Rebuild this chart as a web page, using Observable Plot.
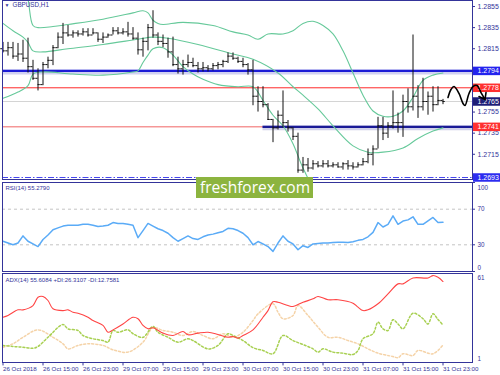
<!DOCTYPE html>
<html><head><meta charset="utf-8">
<script src="https://cdn.jsdelivr.net/npm/d3@7"></script>
<script src="https://cdn.jsdelivr.net/npm/@observablehq/plot@0.6"></script>
<style>
body{margin:0;background:#fff;}
#wrap{position:relative;width:500px;height:375px;overflow:hidden;}
#wrap svg{display:block;}
#wm{position:absolute;left:196px;top:177px;width:117px;height:21px;background:#8cb43f;color:#fff;font-family:"Open Sans",sans-serif;font-size:15.5px;line-height:20px;padding-left:4px;box-sizing:border-box;white-space:nowrap;}
</style></head><body><div id="wrap"><div id="wm">freshforex.com</div></div>
<script>
// ---------- DATA ----------
const symbolTitle = "GBPUSD,H1";
const highs = [1.2821,1.2821,1.2821,1.2820,1.2823,1.2825,1.2804,1.2796,1.2802,1.2807,
1.2818,1.2830,1.2839,1.2837,1.2832,1.2832,1.2834,1.2834,1.2834,1.2830,
1.2830,1.2829,1.2835,1.2835,1.2834,1.2840,1.2835,1.2830,1.2825,1.2838,
1.2851,1.2830,1.2828,1.2825,1.2826,1.2807,1.2804,1.2809,1.2806,1.2802,
1.2802,1.2799,1.2801,1.2802,1.2804,1.2811,1.2811,1.2807,1.2806,1.2801,
1.2804,1.2779,1.2779,1.2763,1.2748,1.2756,1.2775,1.2747,1.2740,1.2735,
1.2712,1.2711,1.2709,1.2708,1.2709,1.2709,1.2707,1.2707,1.2707,1.2709,
1.2707,1.2707,1.2711,1.2720,1.2723,1.2750,1.2750,1.2745,1.2775,1.2754,
1.2771,1.2777,1.2828,1.2780,1.2787,1.2774,1.2779,1.2779,1.2767];
const lows = [1.2811,1.2808,1.2805,1.2803,1.2802,1.2792,1.2785,1.2775,1.2780,1.2796,
1.2799,1.2815,1.2819,1.2826,1.2825,1.2826,1.2827,1.2826,1.2828,1.2821,
1.2820,1.2825,1.2828,1.2828,1.2828,1.2826,1.2823,1.2809,1.2807,1.2813,
1.2825,1.2818,1.2816,1.2806,1.2798,1.2791,1.2790,1.2797,1.2797,1.2792,
1.2793,1.2793,1.2794,1.2795,1.2797,1.2801,1.2804,1.2801,1.2797,1.2790,
1.2761,1.2755,1.2759,1.2747,1.2726,1.2738,1.2740,1.2736,1.2728,1.2697,
1.2697,1.2698,1.2700,1.2702,1.2702,1.2702,1.2702,1.2702,1.2700,1.2700,
1.2700,1.2702,1.2704,1.2706,1.2704,1.2720,1.2728,1.2730,1.2739,1.2735,
1.2731,1.2754,1.2756,1.2749,1.2756,1.2752,1.2755,1.2761,1.2762];
const opens = [1.2815,1.2813,1.2816,1.2808,1.2810,1.2806,1.2798,1.2787,1.2781,1.2800,
1.2804,1.2816,1.2826,1.2830,1.2828,1.2830,1.2829,1.2831,1.2828,1.2830,
1.2824,1.2826,1.2828,1.2832,1.2830,1.2831,1.2829,1.2825,1.2814,1.2822,
1.2835,1.2828,1.2822,1.2820,1.2812,1.2800,1.2796,1.2800,1.2802,1.2799,
1.2796,1.2797,1.2796,1.2799,1.2800,1.2803,1.2808,1.2806,1.2803,1.2800,
1.2795,1.2770,1.2765,1.2762,1.2748,1.2740,1.2752,1.2745,1.2740,1.2732,
1.2700,1.2705,1.2702,1.2706,1.2704,1.2706,1.2704,1.2705,1.2703,1.2706,
1.2704,1.2703,1.2705,1.2708,1.2715,1.2720,1.2742,1.2735,1.2742,1.2745,
1.2745,1.2765,1.2760,1.2770,1.2760,1.2765,1.2770,1.2762,1.2766];
const closes = [1.2813,1.2816,1.2808,1.2810,1.2806,1.2798,1.2787,1.2781,1.2800,1.2804,
1.2816,1.2826,1.2830,1.2828,1.2830,1.2829,1.2831,1.2828,1.2830,1.2824,
1.2826,1.2828,1.2832,1.2830,1.2831,1.2829,1.2825,1.2814,1.2822,1.2835,
1.2828,1.2822,1.2820,1.2812,1.2800,1.2796,1.2800,1.2802,1.2799,1.2796,
1.2797,1.2796,1.2799,1.2800,1.2803,1.2808,1.2806,1.2803,1.2800,1.2795,
1.2770,1.2765,1.2762,1.2748,1.2740,1.2752,1.2745,1.2740,1.2732,1.2700,
1.2705,1.2702,1.2706,1.2704,1.2706,1.2704,1.2705,1.2703,1.2706,1.2704,
1.2703,1.2705,1.2708,1.2715,1.2720,1.2742,1.2735,1.2742,1.2745,1.2745,
1.2765,1.2760,1.2770,1.2760,1.2765,1.2770,1.2762,1.2766,1.2765];

// Bollinger bands: [bar index, price]
const bbUpper = [[4,1.2880],[5,1.2862],[6,1.2837],[7,1.2835],[10,1.2836],[13,1.2838],[20,1.2843],[26,1.2849],[28,1.2851],[29,1.2849],[30,1.2842],[31,1.2839],[32,1.2838],[36,1.2840],[42,1.2837],[46,1.2831],[49,1.2828],[51,1.2824],[53,1.2829],[56,1.2829],[58,1.2832],[60,1.2839],[62,1.2841],[64,1.2837],[66,1.2829],[68,1.2813],[70,1.2792],[72,1.2771],[74,1.2756],[76,1.2751],[78,1.2751],[80,1.2756],[82,1.2769],[84,1.2785],[86,1.2790],[88,1.2792]];
const bbMiddle = [[0,1.2839],[2,1.2832],[4,1.2826],[5,1.2821],[6,1.2813],[8,1.2812],[13,1.2815],[20,1.2819],[27,1.2824],[30,1.2826],[33,1.2825],[39,1.2819],[46,1.2810],[50,1.2805],[55,1.2792],[58,1.2779],[60,1.2771],[63,1.2758],[66,1.2742],[70,1.2723],[73,1.2717],[76,1.2717],[80,1.2721],[83,1.2730],[86,1.2737],[88,1.2740]];
const bbLower = [[0,1.2768],[3,1.2774],[5,1.2780],[6,1.2791],[8,1.2793],[14,1.2791],[20,1.2790],[26,1.2793],[27,1.2794],[28,1.2802],[29,1.2809],[30,1.2815],[32,1.2816],[34,1.2809],[36,1.2798],[38,1.2791],[40,1.2786],[43,1.2781],[47,1.2779],[50,1.2779],[52,1.2766],[54,1.2752],[56,1.2742],[58,1.2725],[60,1.2702],[62,1.2685],[66,1.2671]];

// Levels
const resistance = 1.2794;
const pivot = 1.2778;
const bid = 1.2765;
const support = 1.2741;
const swingLow = 1.2693;
const supportFromBar = 52;
const priceTicks = [1.2855, 1.2835, 1.2815, 1.2755, 1.2735, 1.2715];

// Hand drawn forecast wave: [bar index, price]
const wave = [[89,1.27688],[89.6,1.27764],[90.2,1.27792],[91.2,1.27726],[92,1.27631],[92.4,1.27612],[93.2,1.27726],[94,1.27792],[94.8,1.27802],[95.6,1.27735],[96.4,1.27669]];
const arrowHead = [[95.2,1.27697],[96.4,1.27669],[96.6,1.27735]];

// RSI(14), one value per bar
const rsi = [34,32,30,32,40,34,31,28,36,41,
47,49,51,52,52,52,53,53,52,50.5,
51,52,55,54,54,53,52,38,46,54,
51,48,46,43,38,34,37,40,37,36,
39,41,42,43.5,45,48.5,48,46,43,38,
30,33.7,31,28,22.6,32,40,34,31,24.4,
29,27,31,31.5,32,32,32.5,33,33,32.5,
33.5,35,36,39,44,55,50,53,62.6,53,
56.7,58,61.5,53,53,57,60.7,55,55.3];
const rsiLabel = "RSI(14) 55.2790";
const rsiLevels = [70, 30];

// ADX(14): [bar index, value]
const adx = [[0,31.5],[1,32.7],[3,36.5],[4,36.5],[6,39.4],[7,45],[8,45.5],[9,42.8],[10,37.2],[12,36],[13,36.5],[14,34.9],[15,34.2],[17,31.5],[18,29.3],[20,26],[21,21.4],[22,23],[24,27],[26,31.5],[27,30.5],[28,26],[29,23.7],[30,24.4],[32,20.8],[34,19.2],[36,21.9],[37,19.7],[39,20.8],[41,21.4],[43,19.9],[45,18],[46,18.5],[47,17.4],[48,19.2],[50,23],[52,31.5],[53,36],[54,42],[55,41.6],[57,39.4],[58,38.8],[60,41.6],[62,43.9],[63,45.5],[65,43.3],[67,43.3],[70,41],[71,38.3],[72,36],[73,36.5],[75,40.6],[77,47.3],[79,54],[80,54],[82,58],[85,58],[86,59.6],[87,58.5],[88,55.6]];
const plusDI = [[0,12.5],[2,11.8],[4,11.3],[6,10.6],[7,11.8],[9,18],[12,26.6],[13,23.7],[15,22.6],[16,19.2],[18,17],[20,15.8],[21,14.7],[22,22.6],[23,21.4],[25,23],[26,20.4],[28,18],[30,25.3],[31,21.4],[33,18],[35,14.7],[37,17],[38,15.8],[41,10.2],[43,12.5],[45,20.4],[46,19.2],[48,15.8],[50,11],[52,9.1],[54,6.9],[56,19.2],[58,15.8],[60,13.1],[62,10.2],[63,8],[64,10.2],[66,8],[68,7.3],[70,6.4],[71,9.1],[72,17],[74,20.4],[75,28.2],[76,23.7],[77,22.6],[78,29.8],[79,27],[80,23.7],[82,34.2],[84,30.5],[85,27],[86,33.8],[87,30],[88,26.3]];
const minusDI = [[0,11.3],[2,13.6],[4,18],[7,23],[10,18],[12,13.6],[13,10.2],[15,12.5],[17,13.6],[20,12.5],[22,9.6],[25,8],[28,14.7],[30,24.4],[32,22.6],[34,21.4],[36,19.2],[38,21.9],[40,19.2],[42,17],[44,20.4],[46,18],[48,21.4],[50,29.3],[51,33.8],[54,40.6],[55,34.9],[56,30.5],[58,32.7],[59,39.4],[61,32.7],[63,24.8],[65,18],[67,18],[69,15.8],[71,13.6],[73,10.2],[75,7.3],[78,5],[79,4.2],[80,6.9],[82,5.7],[83,9.1],[86,6.9],[88,12.8]];
const adxLabel = "ADX(14) 55.6084 +DI:26.3107 -DI:12.7581";

// Time axis
const timeTickBars = [0,8,16,24,32,40,48,56,64,72,80,88];
const timeLabels = ["26 Oct 2018","26 Oct 15:00","26 Oct 23:00","29 Oct 07:00","29 Oct 15:00","29 Oct 23:00","30 Oct 07:00","30 Oct 15:00","30 Oct 23:00","31 Oct 07:00","31 Oct 15:00","31 Oct 23:00"];

// ---------- DRAWING ----------
const NAVY = "#34349a";
const BB = "#66c99a";
const XD = [-0.1, 93.9];
const XR = XD[1];
const FONT = "Liberation Sans, Arial, sans-serif";
const base = {width: 500, marginLeft: 2, marginRight: 28, style: {fontFamily: FONT, fontSize: "7px", background: "white", overflow: "visible"}};
const px = d => d[0], py = d => d[1];

const bars = highs.map((h, i) => ({i, high: h, low: lows[i], open: opens[i], close: closes[i]}));

const boxes = [
  {v: resistance, fill: "#2323ee"},
  {v: pivot, fill: "#ff3030"},
  {v: bid, fill: "#1e1e78"},
  {v: support, fill: "#ff3030"},
  {v: swingLow, fill: "#2c2cf0"}
];
const boxMarks = boxes.flatMap(b => [
  Plot.ruleY([b.v], {x1: XR + 0.2, x2: 99.9, stroke: b.fill, strokeWidth: 8.5}),
  Plot.text([b.v], {x: XR, y: d => d, dx: 5, text: d => d.toFixed(4), textAnchor: "start", fill: "white", fontSize: 7})
]);
const axisLabel = (vals, dy) => Plot.text(vals, {x: XR, y: d => d, dx: 5, dy, text: d => String(d), textAnchor: "start", fill: NAVY, fontSize: 6.3});

const main = Plot.plot({
  ...base, height: 181, marginTop: 0, marginBottom: 2,
  x: {domain: XD, axis: null},
  y: {domain: [1.26911, 1.28607], axis: null},
  marks: [
    Plot.ruleY([bid], {stroke: "#d4d4d4"}),
    Plot.ruleY([pivot], {stroke: "#ff2a2a"}),
    Plot.ruleY([support], {stroke: "#f06464"}),
    Plot.ruleY([resistance], {stroke: "#9898e0", strokeWidth: 5, strokeOpacity: 0.45, dy: 1}),
    Plot.ruleY([resistance], {stroke: "#1c1cd6", strokeWidth: 2.4}),
    Plot.ruleY([support], {x1: supportFromBar, x2: XR, stroke: "#9898d0", strokeWidth: 5, strokeOpacity: 0.45, dy: 1}),
    Plot.ruleY([support], {x1: supportFromBar, x2: XR, stroke: "#1a1a96", strokeWidth: 2.4}),
    Plot.ruleY([swingLow], {stroke: "#4646ee", strokeWidth: 1.2, strokeDasharray: "6,2,1.5,2"}),
    Plot.line(bbUpper, {x: px, y: py, stroke: BB, strokeWidth: 1.1, curve: "catmull-rom", clip: true}),
    Plot.line(bbMiddle, {x: px, y: py, stroke: BB, strokeWidth: 1.1, curve: "catmull-rom", clip: true}),
    Plot.line(bbLower, {x: px, y: py, stroke: BB, strokeWidth: 1.1, curve: "catmull-rom", clip: true}),
    Plot.ruleX(bars, {x: "i", y1: "low", y2: "high", stroke: "#111"}),
    Plot.ruleY(bars, {y: "open", x1: d => d.i - 0.45, x2: "i", stroke: "#111"}),
    Plot.ruleY(bars, {y: "close", x1: "i", x2: d => d.i + 0.45, stroke: "#111"}),
    Plot.frame({stroke: NAVY}),
    Plot.ruleY(priceTicks, {x1: XR, x2: XR + 0.6, stroke: NAVY}),
    Plot.text(priceTicks, {x: XR, y: d => d, dx: 5, text: d => d.toFixed(4), textAnchor: "start", fill: NAVY}),
    ...boxMarks,
    Plot.line(wave, {x: px, y: py, stroke: "#000", strokeWidth: 1.6, curve: "catmull-rom"}),
    Plot.line(arrowHead, {x: px, y: py, stroke: "#000", strokeWidth: 1.6}),
    Plot.text(["\u25BC"], {frameAnchor: "top-left", dx: 2, dy: 3, fill: NAVY, fontSize: 5}),
    Plot.text([symbolTitle], {frameAnchor: "top-left", dx: 10, dy: 2.5, fill: NAVY, fontSize: 6.3})
  ]
});

const rsiPlot = Plot.plot({
  ...base, height: 91, marginTop: 1, marginBottom: 1,
  x: {domain: XD, axis: null},
  y: {domain: [0, 100], axis: null},
  marks: [
    Plot.ruleY(rsiLevels, {stroke: "#c4c4c4", strokeDasharray: "3,3"}),
    Plot.line(rsi, {x: (d, i) => i, y: d => d, stroke: "#5aabf7"}),
    Plot.frame({stroke: NAVY}),
    Plot.ruleY([100, 70, 30, 0], {x1: XR, x2: XR + 0.6, stroke: NAVY}),
    axisLabel(rsiLevels, 0),
    axisLabel([100], 5),
    axisLabel([0], -4),
    Plot.text([rsiLabel], {frameAnchor: "top-left", dx: 3, dy: 3, fill: NAVY, fontSize: 6})
  ]
});

const adxPlot = Plot.plot({
  ...base, height: 103, marginTop: 1, marginBottom: 13,
  x: {domain: XD, axis: null},
  y: {domain: [1, 61], axis: null},
  marks: [
    Plot.line(minusDI, {x: px, y: py, stroke: "#f5d3a8", strokeDasharray: "2,2", curve: "catmull-rom"}),
    Plot.line(plusDI, {x: px, y: py, stroke: "#a8d052", strokeDasharray: "2,2", curve: "catmull-rom"}),
    Plot.line(adx, {x: px, y: py, stroke: "#ff4444", strokeWidth: 1.1, curve: "catmull-rom"}),
    Plot.frame({stroke: NAVY}),
    axisLabel([61], 4),
    axisLabel([1], -4),
    Plot.text([adxLabel], {frameAnchor: "top-left", dx: 3, dy: 4, fill: NAVY, fontSize: 6}),
    Plot.ruleX(timeTickBars, {x: d => d, y1: 1, y2: -1.3, stroke: NAVY}),
    Plot.text(timeTickBars, {x: d => d, y: 1, dy: 7, text: (d, i) => timeLabels[i], textAnchor: "start", fill: NAVY, fontSize: 6.2})
  ]
});

const wrap = document.getElementById("wrap");
const wm = document.getElementById("wm");
wrap.insertBefore(main, wm);
wrap.insertBefore(rsiPlot, wm);
wrap.insertBefore(adxPlot, wm);
</script></body></html>
